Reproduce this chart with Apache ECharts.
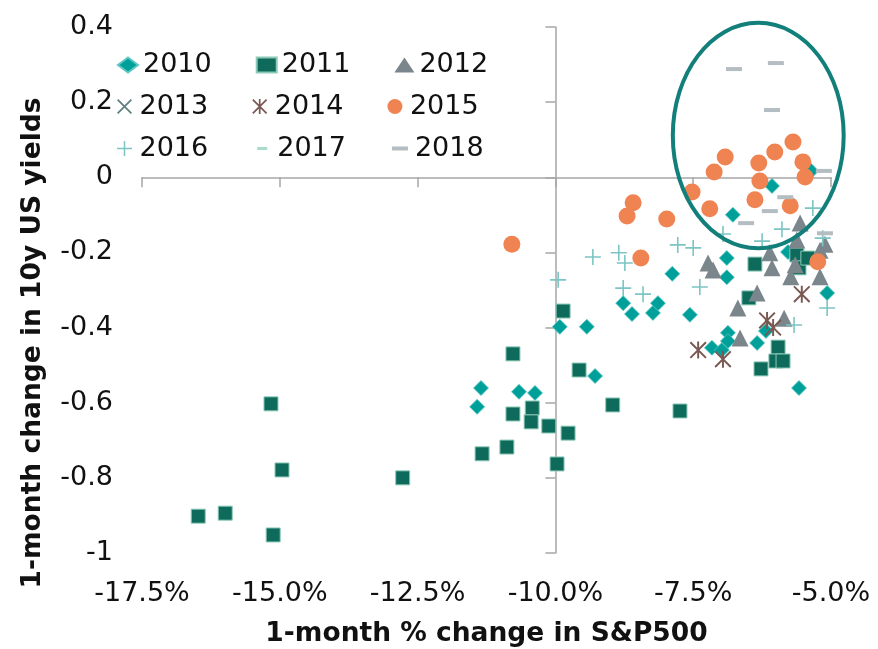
<!DOCTYPE html>
<html>
<head>
<meta charset="utf-8">
<script src="https://cdn.jsdelivr.net/npm/echarts@6/dist/echarts.min.js"></script>
<style>
html, body { margin: 0; padding: 0; background: #fff; }
#chart { width: 878px; height: 649px; }
</style>
</head>
<body>
<div id="chart"></div>
<script>
// [1-month % change in S&P500, 1-month change in 10y US yields]
const s2010 = [[-11.35,-0.561],[-11.42,-0.611],[-10.66,-0.571],[-10.37,-0.574],[-9.92,-0.398],[-9.43,-0.398],
  [-9.28,-0.529],[-8.77,-0.335],[-8.61,-0.364],[-8.23,-0.361],[-8.14,-0.335],[-7.56,-0.366],[-7.88,-0.257],
  [-6.89,-0.215],[-6.89,-0.266],[-6.78,-0.100],[-7.16,-0.454],[-6.98,-0.460],[-6.87,-0.414],[-6.87,-0.436],
  [-6.34,-0.441],[-6.18,-0.409],[-5.58,-0.561],[-5.07,-0.308],[-6.07,-0.023],[-5.36,0.017],[-5.78,-0.199]]
const s2011 = [[-15.16,-0.603],[-14.96,-0.779],[-15.99,-0.894],[-16.48,-0.902],[-15.12,-0.952],[-12.77,-0.800],
  [-11.33,-0.736],[-10.88,-0.718],[-10.77,-0.630],[-10.42,-0.614],[-10.44,-0.651],[-10.12,-0.662],[-9.77,-0.681],
  [-9.97,-0.763],[-10.77,-0.470],[-9.57,-0.513],[-9.86,-0.356],[-8.96,-0.606],[-7.74,-0.622],[-6.49,-0.321],
  [-5.96,-0.452],[-6.00,-0.489],[-5.87,-0.489],[-6.27,-0.510],[-6.38,-0.231],[-5.62,-0.207],[-5.58,-0.241],
  [-5.42,-0.215]]
const s2012 = [[-7.23,-0.228],[-7.14,-0.247],[-6.69,-0.348],[-6.65,-0.428],[-6.34,-0.308],[-6.11,-0.201],
  [-6.07,-0.241],[-5.85,-0.375],[-5.73,-0.265],[-5.56,-0.122],[-5.62,-0.167],[-5.20,-0.194],[-5.11,-0.178],
  [-5.20,-0.265],[-5.65,-0.233]]
const s2013 = []
const s2014 = [[-5.53,-0.311],[-6.16,-0.381],[-6.05,-0.400],[-7.41,-0.460],[-6.96,-0.484]]
const s2015 = [[-6.92,0.054],[-7.12,0.014],[-6.31,0.038],[-6.02,0.067],[-5.69,0.094],[-5.51,0.041],[-5.47,0.001],
  [-6.29,-0.010],[-7.52,-0.039],[-8.59,-0.068],[-8.70,-0.103],[-7.98,-0.111],[-10.79,-0.178],[-8.45,-0.215],
  [-7.20,-0.084],[-6.38,-0.060],[-5.74,-0.076],[-5.24,-0.225]]
const s2016 = [[-9.95,-0.273],[-9.32,-0.212],[-8.85,-0.201],[-8.74,-0.228],[-8.77,-0.295],[-8.41,-0.311],
  [-7.78,-0.180],[-7.50,-0.188],[-7.38,-0.292],[-6.96,-0.151],[-6.25,-0.170],[-5.89,-0.138],[-5.33,-0.082],
  [-5.15,-0.162],[-5.07,-0.348],[-5.67,-0.393]]
const s2017 = []
const s2018 = [[-6.76,0.288],[-6.00,0.304],[-6.07,0.179],[-5.13,0.017],[-5.83,-0.053],[-6.11,-0.090],
  [-6.54,-0.122],[-5.11,-0.149]]

const xMin = -17.5, xMax = -5, xStep = 2.5
const yMin = -1, yMax = 0.4, yStep = 0.2
const xCross = -10   // y axis line sits here

// highlight ring, in data units
const ringCx = -6.32, ringCy = 0.111, ringRx = 1.55, ringRy = 0.30

const FONT = 'DejaVu Sans'
const gridL = 142, gridR = 47, gridT = 27, gridB = 96
const gridW = 878 - gridL - gridR

// marker shapes
const PLUS = 'path://M9,0H11V9H20V11H11V20H9V11H0V9H9Z'
const CROSS = 'path://M2.71,1.29L18.71,17.29L17.29,18.71L1.29,2.71Z M18.71,2.71L2.71,18.71L1.29,17.29L17.29,1.29Z'
const STAR = CROSS + ' M9,1.29H11V18.71H9Z'
const DASH18 = 'path://M0,0H16V4H0Z'
const DASH17 = 'path://M0,0H10V3H0Z'

const chart = echarts.init(document.getElementById('chart'))

function scatter(name, data, symbol, size, color, border, borderWidth) {
  return {
    name: name,
    type: 'scatter',
    data: data,
    symbol: symbol,
    symbolSize: size,
    itemStyle: {
      color: color,
      opacity: 1,
      borderColor: border || color,
      borderWidth: border ? borderWidth : 0
    },
    emphasis: { disabled: true }
  }
}

const legendBase = {
  left: 117,
  padding: 0,
  itemWidth: 20,
  itemHeight: 15,
  itemGap: 44,
  selectedMode: false,
  textStyle: { fontSize: 27, fontFamily: FONT, color: '#111', lineHeight: 28 }
}

chart.setOption({
  animation: false,
  backgroundColor: '#fff',
  grid: { left: gridL, right: gridR, top: gridT, bottom: gridB, containLabel: false, outerBoundsMode: 'none' },
  legend: [
    Object.assign({}, legendBase, { top: 51, data: ['2010', '2011', '2012'] }),
    Object.assign({}, legendBase, { top: 92.5, data: ['2013', '2014', '2015'] }),
    Object.assign({}, legendBase, { top: 134.5, data: ['2016',
      { name: '2017', icon: 'path://M0,0L0,0M5,6H15V9H5ZM20,15L20,15' },
      { name: '2018', icon: 'path://M0,0L0,0M2,5.5H18V9.5H2ZM20,15L20,15' }] })
  ],
  xAxis: [
    {
      type: 'value', min: xMin, max: xMax, interval: xStep,
      axisLine: { show: false, onZero: false }, axisTick: { show: false }, splitLine: { show: false },
      axisLabel: { formatter: v => v.toFixed(1) + '%', fontSize: 27, fontFamily: FONT, color: '#111', margin: 27 },
      name: '1-month % change in S&P500',
      nameLocation: 'middle',
      nameGap: 68,
      nameTextStyle: { fontSize: 26.5, fontWeight: 'bold', fontFamily: FONT, color: '#111' }
    },
    {
      // the visible x axis line, sitting on y = 0
      type: 'value', min: xMin, max: xMax, interval: xStep, position: 'bottom',
      axisLine: { show: true, onZero: true, onZeroAxisIndex: 0, lineStyle: { color: '#a6a6a6', width: 1.5 } },
      axisTick: { show: true, length: 10, lineStyle: { color: '#a6a6a6', width: 1.5 } },
      axisLabel: { show: false }, splitLine: { show: false }
    }
  ],
  yAxis: [
    {
      type: 'value', min: yMin, max: yMax, interval: yStep,
      axisLine: { show: false, onZero: false }, axisTick: { show: false }, splitLine: { show: false },
      axisLabel: { fontSize: 27, fontFamily: FONT, color: '#111', margin: 29 }
    },
    {
      // the visible y axis line, drawn through x = -10%
      type: 'value', min: yMin, max: yMax, interval: yStep, position: 'left',
      offset: -gridW * (xCross - xMin) / (xMax - xMin),
      axisLine: { show: true, onZero: false, lineStyle: { color: '#a6a6a6', width: 1.5 } },
      axisTick: { show: true, length: 10, lineStyle: { color: '#a6a6a6', width: 1.5 } },
      axisLabel: { show: false }, splitLine: { show: false }
    }
  ],
  graphic: {
    elements: [{
      id: 'ytitle',
      type: 'text',
      x: 33, y: 343,
      rotation: Math.PI / 2,
      style: {
        text: '1-month change in 10y US yields',
        fontSize: 26.5, fontWeight: 'bold', fontFamily: FONT, fill: '#111',
        align: 'center', verticalAlign: 'middle',
        textAlign: 'center', textVerticalAlign: 'middle'
      }
    }]
  },
  series: [
    scatter('2010', s2010, 'diamond', 15, '#00a09a', '#5cc7c1', 0.8),
    scatter('2011', s2011, 'rect', 14, '#0e6a5b', '#8cc9b8', 1),
    scatter('2012', s2012, 'triangle', 17, '#7a868c'),
    scatter('2013', s2013, CROSS, 16, '#5f7e80'),
    scatter('2014', s2014, STAR, 17, '#7a5852'),
    scatter('2015', s2015, 'circle', 17, '#ef8452'),
    scatter('2016', s2016, PLUS, 16, '#7cc5c3'),
    scatter('2017', s2017, DASH17, [10, 3], '#a8dccb'),
    scatter('2018', s2018, DASH18, [16, 4], '#b4bdc2')
  ]
})

// ring round the points above zero
const c = chart.convertToPixel({ xAxisIndex: 0, yAxisIndex: 0 }, [ringCx, ringCy])
const e = chart.convertToPixel({ xAxisIndex: 0, yAxisIndex: 0 }, [ringCx + ringRx, ringCy + ringRy])
chart.setOption({
  graphic: {
    elements: [{
      id: 'ring',
      type: 'ellipse',
      z: 100,
      shape: { cx: c[0], cy: c[1], rx: e[0] - c[0], ry: c[1] - e[1] },
      style: { fill: 'none', stroke: '#127f7b', lineWidth: 4 }
    }]
  }
})
</script>
</body>
</html>
